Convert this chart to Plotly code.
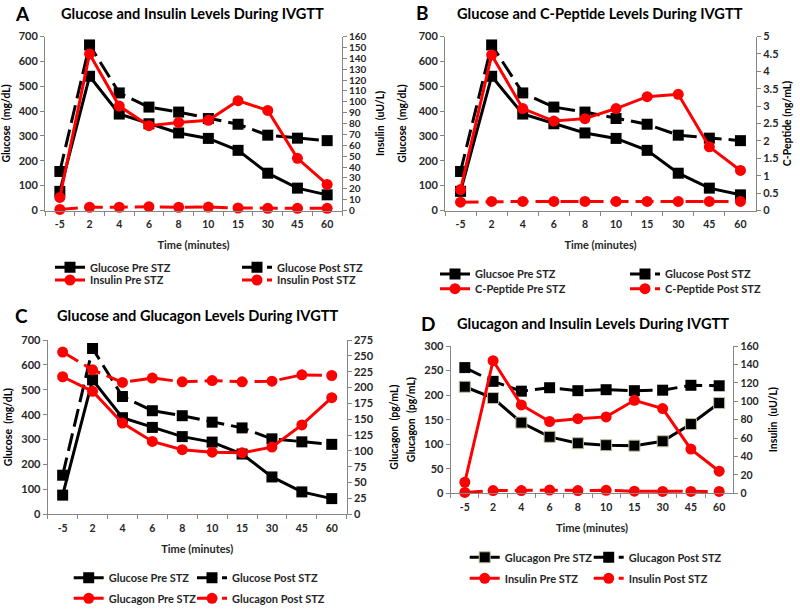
import plotly.graph_objects as go

# ---------------- data ----------------
time_labels = ["-5", "2", "4", "6", "8", "10", "15", "30", "45", "60"]
glucose_pre = [77, 540, 388, 349, 312, 290, 242, 150, 90, 63]
glucose_post = [157, 666, 473, 416, 396, 370, 347, 303, 291, 281]
insulin_pre = [12, 144, 96, 78, 81, 83, 101, 92, 48, 24]
insulin_post = [1, 3, 3, 3.5, 3, 3.2, 2.3, 2, 2, 2]
cpeptide_pre = [0.6, 4.47, 2.93, 2.57, 2.64, 2.93, 3.27, 3.34, 1.83, 1.15]
cpeptide_post = [0.24, 0.26, 0.26, 0.26, 0.26, 0.26, 0.26, 0.26, 0.26, 0.26]
glucagon_pre = [217, 194, 144, 115, 102, 98, 97, 106, 141, 184]
glucagon_post = [256, 228, 208, 215, 209, 211, 209, 210, 220, 219]

W, H = 800, 614
FONT = "Lato"
BLACK = "#000000"
RED = "#ff0000"
AXC = "#868686"
TXT = "#262626"
DASH = "18px,7px"


def px(x):
    return x / W


def py(y):
    return 1 - y / H


fig = go.Figure()
legends = {}
_count = [0]


def add(name, y, xa, ya, color, symbol, dashed, lx, ly, mline=None):
    _count[0] += 1
    key = "legend" if _count[0] == 1 else "legend%d" % _count[0]
    marker = dict(symbol=symbol, size=11, color=color)
    if mline:
        marker["line"] = dict(color=mline, width=1)
    fig.add_trace(go.Scatter(
        x=time_labels, y=y, name=name, xaxis=xa, yaxis=ya,
        mode="lines+markers", showlegend=True,
        line=dict(color=color, width=3, dash=DASH if dashed else "solid"),
        marker=marker, legend=key, cliponaxis=False,
    ))
    legends[key] = dict(
        x=px(lx - 8), y=py(ly), xanchor="left", yanchor="middle",
        orientation="h", bgcolor="rgba(0,0,0,0)", borderwidth=0, itemwidth=30,
        font=dict(family=FONT, size=11, color=TXT, weight="bold"),
        itemclick=False, itemdoubleclick=False,
    )


# Panel A
add("Glucose Pre STZ", glucose_pre, "x", "y", BLACK, "square", False, 58, 267.3)
add("Glucose Post STZ", glucose_post, "x", "y", BLACK, "square", True, 245, 267.3)
add("Insulin Pre STZ", insulin_pre, "x", "y2", RED, "circle", False, 58, 280)
add("Insulin Post STZ", insulin_post, "x", "y2", RED, "circle", True, 245, 280)
# Panel B
add("Glucsoe Pre STZ", glucose_pre, "x2", "y3", BLACK, "square", False, 443, 274)
add("Glucose Post STZ", glucose_post, "x2", "y3", BLACK, "square", True, 633, 274)
add("C-Peptide Pre STZ", cpeptide_pre, "x2", "y4", RED, "circle", False, 443, 288.7)
add("C-Peptide Post STZ", cpeptide_post, "x2", "y4", RED, "circle", True, 633, 288.7)
# Panel C
add("Glucose Pre STZ", glucose_pre, "x3", "y5", BLACK, "square", False, 76.7, 577.7)
add("Glucose Post STZ", glucose_post, "x3", "y5", BLACK, "square", True, 200, 577.7)
add("Glucagon Pre STZ", glucagon_pre, "x3", "y6", RED, "circle", False, 76.7, 598.3)
add("Glucagon Post STZ", glucagon_post, "x3", "y6", RED, "circle", True, 200, 598.3)
# Panel D
add("Glucagon Pre STZ", glucagon_pre, "x4", "y7", BLACK, "square", False, 472.7, 557.3, mline="#c4bd97")
add("Glucagon Post STZ", glucagon_post, "x4", "y7", BLACK, "square", True, 596.7, 557.3)
add("Insulin Pre STZ", insulin_pre, "x4", "y8", RED, "circle", False, 472.7, 578.3)
add("Insulin Post STZ", insulin_post, "x4", "y8", RED, "circle", True, 596.7, 578.3)


def xaxis(x0, x1, anchor, standoff=12):
    return dict(
        domain=[px(x0), px(x1)], anchor=anchor, type="category",
        range=[-0.5, 9.5], showgrid=False, zeroline=False,
        showline=True, linecolor=AXC, linewidth=1,
        ticks="outside", tickson="boundaries", ticklen=4, tickcolor=AXC,
        ticklabelstandoff=4,
        tickfont=dict(family=FONT, size=10.5, color=TXT, weight="bold"),
        title=dict(text="Time (minutes)", standoff=standoff,
                   font=dict(family=FONT, size=11, color=TXT, weight="bold")),
        fixedrange=True, automargin=False,
    )


def yaxis(y0, y1, anchor, rng, dtick, title, fs, side="left", overlaying=None, standoff=6, tfs=10.5):
    d = dict(
        domain=[py(y1), py(y0)], anchor=anchor, range=rng, dtick=dtick,
        showgrid=False, zeroline=False, showline=True, linecolor=AXC, linewidth=1,
        ticks="outside", ticklen=4, tickcolor=AXC, side=side,
        tickfont=dict(family=FONT, size=fs, color=TXT, weight="bold"),
        title=dict(text=title, standoff=standoff,
                   font=dict(family=FONT, size=tfs, color=BLACK, weight="bold")),
        fixedrange=True, automargin=False,
    )
    if overlaying:
        d["overlaying"] = overlaying
    return d


layout = dict(
    width=W, height=H, margin=dict(l=0, r=0, t=0, b=0, autoexpand=False),
    paper_bgcolor="white", plot_bgcolor="rgba(0,0,0,0)",
    font=dict(family=FONT, color=TXT), showlegend=True,
    xaxis=xaxis(45, 342, "y"),
    yaxis=yaxis(36.5, 210.5, "x", [0, 700], 100, "Glucose  (mg/dL)", 11),
    yaxis2=yaxis(36.5, 210.5, "x", [0, 160], 10, "Insulin  (uU/L)", 10, side="right", overlaying="y", standoff=11),
    xaxis2=xaxis(445, 756, "y3"),
    yaxis3=yaxis(36.5, 210.5, "x2", [0, 700], 100, "Glucose  (mg/dL)", 11, standoff=9),
    yaxis4=yaxis(36.5, 210.5, "x2", [0, 5], 0.5, "C-Peptide (ng/mL)", 11, side="right", overlaying="y3"),
    xaxis3=xaxis(47.7, 346.7, "y5"),
    yaxis5=yaxis(340, 514.3, "x3", [0, 700], 100, "Glucose  (mg/dL)", 11),
    yaxis6=yaxis(340, 514.3, "x3", [0, 275], 25, "Glucagon  (pg/mL)", 11, side="right", overlaying="y5", standoff=17),
    xaxis4=xaxis(450.7, 733.3, "y7"),
    yaxis7=yaxis(346, 493.3, "x4", [0, 300], 50, "Glucagon  (pg/mL)", 11),
    yaxis8=yaxis(346, 493.3, "x4", [0, 160], 20, "Insulin  (uU/L)", 10.5, side="right", overlaying="y7", standoff=11),
)
layout.update(legends)
fig.update_layout(**layout)

titles = [
    ("A", 22, 13, "Glucose and Insulin Levels During IVGTT", 192, 13),
    ("B", 422, 12, "Glucose and C-Peptide Levels During IVGTT", 600, 13),
    ("C", 21, 315, "Glucose and Glucagon Levels During IVGTT", 197, 315),
    ("D", 428, 323, "Glucagon and Insulin Levels During IVGTT", 593, 323),
]
for letter, lx, ly, title, tx, ty in titles:
    fig.add_annotation(text=letter, x=px(lx), y=py(ly), xref="paper", yref="paper",
                       showarrow=False, xanchor="center", yanchor="middle",
                       font=dict(family=FONT, size=19, color=BLACK, weight="bold"))
    fig.add_annotation(text=title, x=px(tx), y=py(ty), xref="paper", yref="paper",
                       showarrow=False, xanchor="center", yanchor="middle",
                       font=dict(family=FONT, size=14.6, color=BLACK, weight="bold"))

fig.write_html("out.html", config={"displayModeBar": False},
               post_script="document.body.style.margin='0px';")
